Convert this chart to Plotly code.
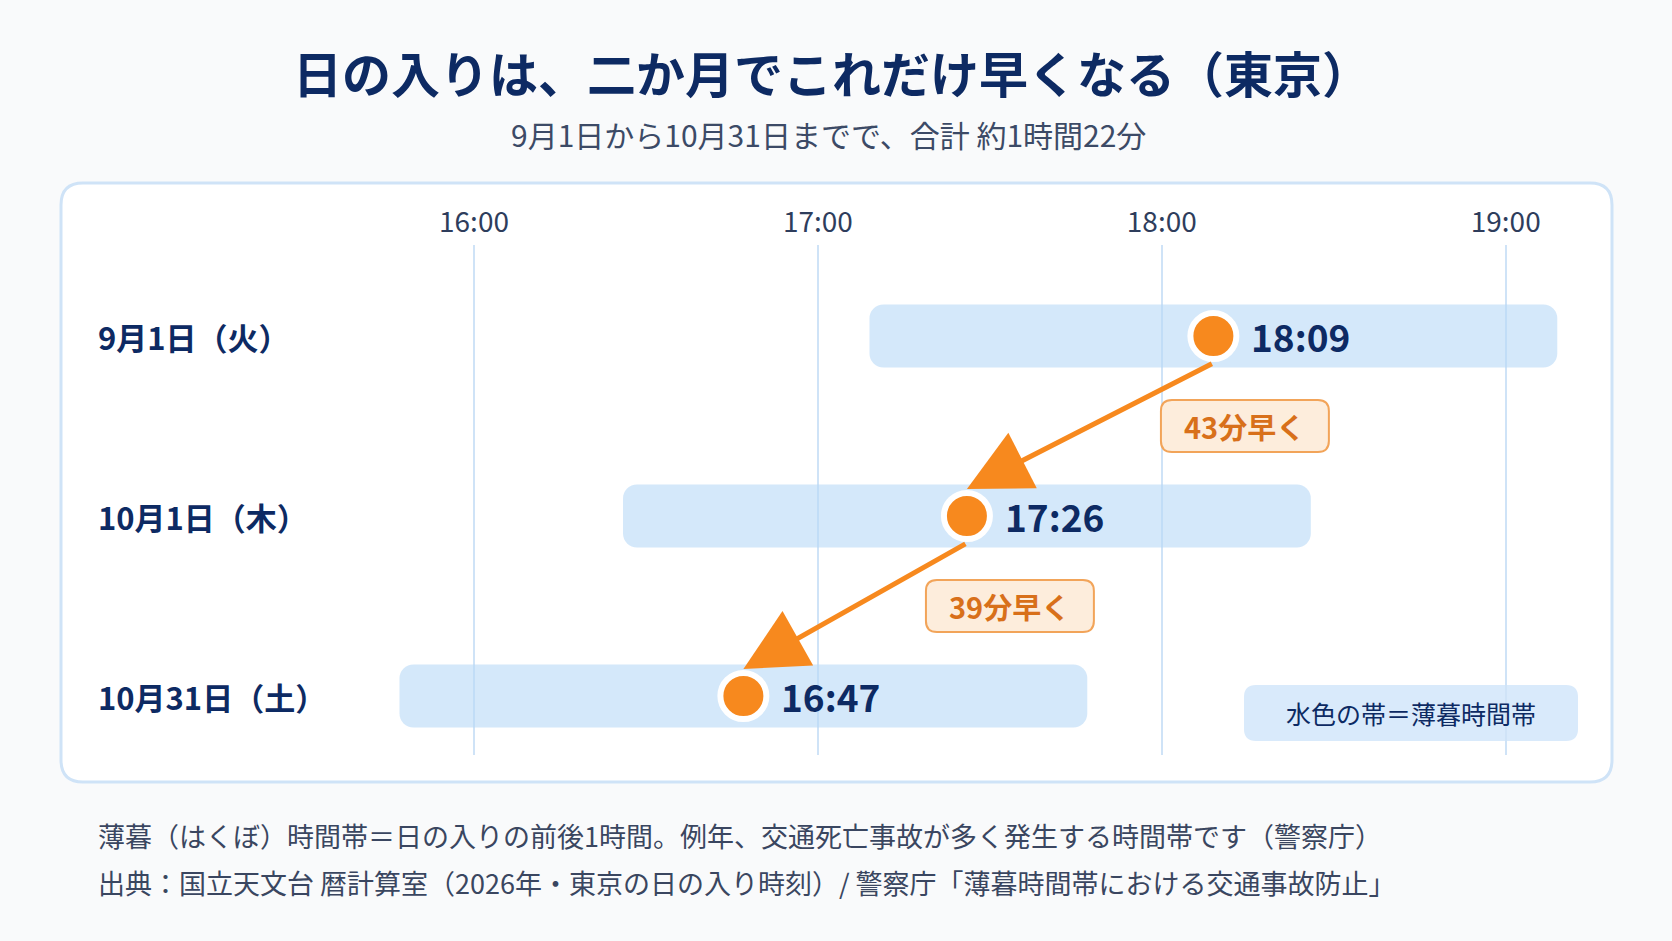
import plotly.graph_objects as go

# 日の入り時刻（東京 2026）
dates = ['9月1日（火）', '10月1日（木）', '10月31日（土）']
sunset = ['18:09', '17:26', '16:47']
dusk_half = 1.0  # 薄暮時間帯 = 日の入りの前後1時間
tick_vals = [16, 17, 18, 19]
tick_labels = ['16:00', '17:00', '18:00', '19:00']

FONT = 'Noto Sans CJK JP'
NAVY = '#0d2a63'
ORANGE = '#f7891e'
W, H = 1672, 941

def to_h(s):
    hh, mm = s.split(':')
    return int(hh) + int(mm) / 60

hours = [to_h(s) for s in sunset]
rows = list(range(len(dates)))

def rpath(x0, x1, y0, y1, rx, ry):
    # 角丸の四角
    return (f'M{x0+rx},{y0} L{x1-rx},{y0} Q{x1},{y0} {x1},{y0+ry} '
            f'L{x1},{y1-ry} Q{x1},{y1} {x1-rx},{y1} L{x0+rx},{y1} '
            f'Q{x0},{y1} {x0},{y1-ry} L{x0},{y0+ry} Q{x0},{y0} {x0+rx},{y0} Z')

fig = go.Figure()

# 薄暮の帯
fig.add_trace(go.Bar(
    y=rows, base=[h - dusk_half for h in hours], x=[2 * dusk_half] * len(hours),
    orientation='h', width=0.35,
    marker=dict(color='rgba(183,216,247,0.6)', cornerradius=14, line=dict(width=0)),
    hoverinfo='skip'))

# 日の入りの点
fig.add_trace(go.Scatter(
    x=hours, y=rows, mode='markers',
    marker=dict(size=46, color=ORANGE, line=dict(color='white', width=6)),
    hoverinfo='skip'))

shapes = [
    dict(type='path', xref='paper', yref='paper', layer='below',
         path=rpath(61 / W, 1612 / W, 1 - 782 / H, 1 - 183 / H, 22 / W, 22 / H),
         fillcolor='white', line=dict(color='#cfe3f7', width=3)),
    dict(type='path', xref='paper', yref='paper', layer='below',
         path=rpath(1244 / W, 1578 / W, 1 - 741 / H, 1 - 685 / H, 12 / W, 12 / H),
         fillcolor='#d9eafb', line=dict(width=0)),
]

def text_ann(text, x, y, size, color, xanchor='center', weight=None):
    f = dict(family=FONT, size=size, color=color)
    if weight:
        f['weight'] = weight
    return dict(text=text, x=x, y=y, xref='paper', yref='paper', xanchor=xanchor,
                yanchor='middle', showarrow=False, font=f)

ann = [
    text_ann('<b>日の入りは、二か月でこれだけ早くなる（東京）</b>', 0.4975, 1 - 72 / H, 49, NAVY, weight=900),
    text_ann('9月1日から10月31日までで、合計 約1時間22分', 0.4955, 1 - 134 / H, 30, '#3c4a66'),
    text_ann('薄暮（はくぼ）時間帯＝日の入りの前後1時間。例年、交通死亡事故が多く発生する時間帯です（警察庁）',
             96 / W, 1 - 835 / H, 27, '#3a4660', xanchor='left'),
    text_ann('出典：国立天文台 暦計算室（2026年・東京の日の入り時刻）/ 警察庁「薄暮時間帯における交通事故防止」',
             96 / W, 1 - 882 / H, 27, '#3a4660', xanchor='left'),
    text_ann('水色の帯＝薄暮時間帯', 1411 / W, 1 - 713 / H, 25, NAVY),
]

for r, d, h, s in zip(rows, dates, hours, sunset):
    ann.append(dict(text=f'<b>{d}</b>', x=96 / W, y=r, xref='paper', yref='y',
                    xanchor='left', yanchor='middle', showarrow=False,
                    font=dict(family=FONT, size=31, color=NAVY)))
    ann.append(dict(text=f'<b>{s}</b>', x=h, y=r, xref='x', yref='y', xanchor='left',
                    yanchor='middle', xshift=36, showarrow=False,
                    font=dict(family=FONT, size=37, color=NAVY)))

# 矢印と「○分早く」
for i in range(len(hours) - 1):
    h1, h2 = hours[i], hours[i + 1]
    mins = round((h1 - h2) * 60)
    ann.append(dict(text='', x=h2, y=rows[i + 1] - 0.15, ax=h1, ay=rows[i] + 0.15,
                    xref='x', yref='y', axref='x', ayref='y', showarrow=True,
                    arrowhead=2, arrowsize=2.5, arrowwidth=5, arrowcolor=ORANGE))
    cx = (h1 + h2) / 2 + 0.45
    cy = (rows[i] + rows[i + 1]) / 2
    bw, bh = 84 / 344, 26 / 180
    shapes.append(dict(type='path', xref='x', yref='y', layer='above',
                       path=rpath(cx - bw, cx + bw, cy - bh, cy + bh, 11 / 344, 11 / 180),
                       fillcolor='#fdeddc', line=dict(color='#f2a459', width=2)))
    ann.append(dict(text=f'<b>{mins}分早く</b>', x=cx, y=cy, xref='x', yref='y',
                    showarrow=False, font=dict(family=FONT, size=29, color='#d8701a')))

x0 = 16 - 474 / 343.9
fig.update_layout(
    width=W, height=H, margin=dict(l=0, r=0, t=0, b=0),
    paper_bgcolor='#f9fafb', plot_bgcolor='rgba(0,0,0,0)',
    showlegend=False, hovermode=False, shapes=shapes, annotations=ann,
    xaxis=dict(range=[x0, x0 + W / 343.9], side='top', tickvals=tick_vals, ticktext=tick_labels,
               tickfont=dict(family=FONT, size=28, color='#2e3d5c'), ticks='',
               showgrid=True, gridcolor='#cfe3f7', gridwidth=1.5, zeroline=False,
               showline=False, ticklabelstandoff=6, fixedrange=True),
    yaxis=dict(domain=[1 - 755 / H, 1 - 245 / H], range=[2.3278, -0.5056],
               showticklabels=False, showgrid=False, zeroline=False, fixedrange=True),
)

fig.write_html('out.html', config={'displayModeBar': False},
               post_script="document.body.style.margin='0px';")
